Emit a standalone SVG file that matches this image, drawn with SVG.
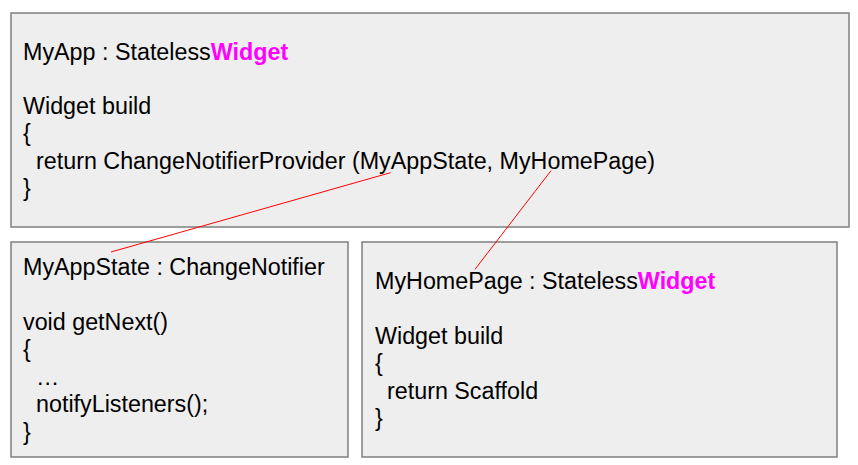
<svg xmlns="http://www.w3.org/2000/svg" width="858" height="465" viewBox="0 0 858 465">
<style>
.box{fill:#eeeeee;stroke:#7f7f7f;stroke-width:1.5}
text{font-family:"Liberation Sans",Arial,sans-serif;font-size:23.3px;fill:#000}
.hl{fill:#ff00ff;font-weight:bold}
.conn{stroke:#ff0000;stroke-width:1;fill:none}
</style>
<rect width="858" height="465" fill="#ffffff"/>
<g id="myapp">
<rect class="box" x="11" y="13" width="838" height="214"/>
<text x="23" y="60">MyApp : Stateless<tspan class="hl">Widget</tspan></text>
<text x="23" y="114">Widget build</text>
<text x="23" y="141">{</text>
<text x="36" y="169">return ChangeNotifierProvider (MyAppState, MyHomePage)</text>
<text x="23" y="196">}</text>
</g>
<g id="myappstate">
<rect class="box" x="11" y="242" width="337" height="215"/>
<text x="23" y="275">MyAppState : ChangeNotifier</text>
<text x="23" y="330">void getNext()</text>
<text x="23" y="357">{</text>
<text x="36" y="385">…</text>
<text x="36" y="412">notifyListeners();</text>
<text x="23" y="440">}</text>
</g>
<g id="myhomepage">
<rect class="box" x="362" y="242" width="475" height="215"/>
<text x="375" y="289">MyHomePage : Stateless<tspan class="hl">Widget</tspan></text>
<text x="375" y="344">Widget build</text>
<text x="375" y="371">{</text>
<text x="387" y="399">return Scaffold</text>
<text x="375" y="426">}</text>
</g>
<g id="connectors">
<line class="conn" x1="390.5" y1="172.7" x2="111" y2="252"/>
<line class="conn" x1="551" y1="170.7" x2="475" y2="269.3"/>
</g>
</svg>
